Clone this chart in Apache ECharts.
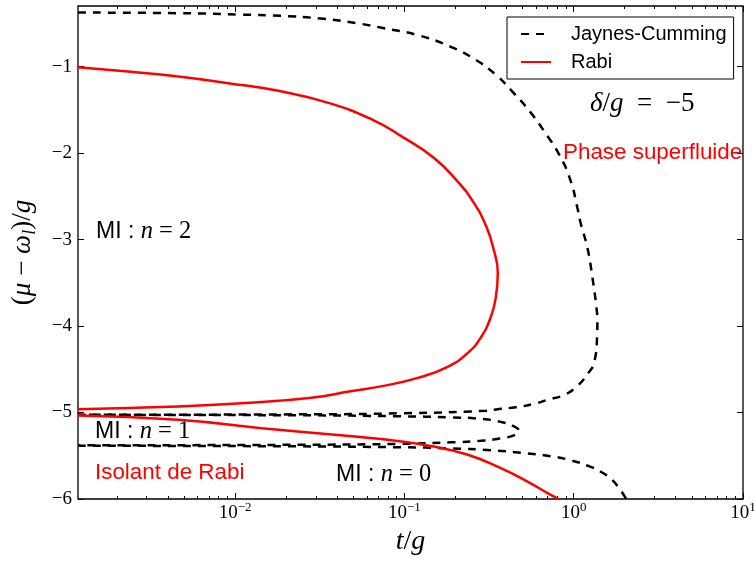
<!DOCTYPE html>
<html><head><meta charset="utf-8">
<script src="https://cdn.jsdelivr.net/npm/echarts@6/dist/echarts.min.js"></script>
<style>html,body{margin:0;padding:0;background:#fff}#c{width:754px;height:561px}</style>
</head><body><div id="c"></div>
<script>
// ---- data (t/g values on a log scale, (mu - omega_l)/g values) ----
const jcUpperT = [0.00118,0.00474,0.0107,0.0185,0.0319,0.0551,0.0723,0.121,0.188,0.264,0.347,0.425,0.553,0.679,0.822,0.955,1.052,1.094,1.205,1.288,1.361,1.380,1.375,1.324,1.222,1.052,0.883,0.700,0.586,0.455,0.371,0.303,0.0951,0.0243,0.00118];
const jcUpperY = [-0.376,-0.383,-0.399,-0.414,-0.445,-0.506,-0.549,-0.639,-0.772,-0.923,-1.096,-1.269,-1.524,-1.767,-2.021,-2.310,-2.634,-2.795,-3.096,-3.431,-3.778,-3.95,-4.102,-4.414,-4.542,-4.692,-4.795,-4.853,-4.899,-4.940,-4.957,-4.980,-5.009,-5.021,-5.027];

const jcMidT = [0.00118,0.0243,0.0951,0.187,0.282,0.371,0.437,0.474,0.443,0.371,0.282,0.187,0.0951,0.0243,0.00118];
const jcMidY = [-5.027,-5.032,-5.044,-5.056,-5.073,-5.108,-5.155,-5.212,-5.264,-5.298,-5.327,-5.345,-5.362,-5.373,-5.379];

const jcLowT = [0.00118,0.0243,0.0951,0.187,0.324,0.488,0.733,0.964,1.213,1.449,1.660,1.849,2.009,2.05];
const jcLowY = [-5.385,-5.391,-5.402,-5.414,-5.437,-5.466,-5.506,-5.553,-5.616,-5.686,-5.767,-5.871,-5.975,-6.0];

const rabiLobeT = [0.00118,0.00233,0.00461,0.00912,0.0180,0.0356,0.0649,0.0951,0.149,0.207,0.257,0.305,0.337,0.356,0.347,0.324,0.282,0.237,0.180,0.120,0.0753,0.0481,0.0282,0.0115,0.00461,0.00118];
const rabiLobeY = [-1.007,-1.058,-1.116,-1.192,-1.281,-1.420,-1.616,-1.801,-2.055,-2.333,-2.576,-2.853,-3.119,-3.385,-3.662,-3.894,-4.136,-4.310,-4.472,-4.599,-4.692,-4.755,-4.830,-4.891,-4.931,-4.961];

const rabiLowT = [0.00118,0.00461,0.0180,0.0703,0.149,0.237,0.371,0.533,0.701,0.815];
const rabiLowY = [-5.035,-5.085,-5.200,-5.304,-5.393,-5.489,-5.643,-5.798,-5.932,-6.0];

// ---- axes / ticks ----
const xMin = 0.00118, xMax = 10;
const xMajorExps = [-2, -1, 0, 1];
const xMinorMult = [2,3,4,5,6,7,8,9];
const xMinorDecades = [-3,-2,-1,0];
const yTicks = [-6,-5,-4,-3,-2,-1];
const yMin = -6, yMax = -0.3;

const xMinLog = Math.log10(xMin), xMaxLog = Math.log10(xMax);
const xMinorVals = [];
xMinorDecades.forEach(d => xMinorMult.forEach(m => xMinorVals.push(Math.log10(m) + d)));

function pts(ts, ys) { return ts.map((t, i) => [Math.log10(t), ys[i]]); }

const RED = '#ff0000';
const SERIF = 'Liberation Serif';
const SANS = 'Liberation Sans';
const dash = [8, 7];
const SMOOTH = 0.5;

function xAx(pos, vals, len, labels) {
  return {
    type: 'value', position: pos, min: xMinLog, max: xMaxLog,
    axisLine: {show: false, onZero: false}, splitLine: {show: false},
    axisTick: {show: true, inside: true, length: len, customValues: vals, lineStyle: {color: '#000', width: 1}},
    axisLabel: labels ? {
      show: true, margin: 2, customValues: xMajorExps,
      formatter: v => '{b|10}{s|' + (v < 0 ? '\u2212' : '') + Math.abs(Math.round(v)) + '}',
      rich: {
        b: {fontFamily: SERIF, fontSize: 19, color: '#000', lineHeight: 24},
        s: {fontFamily: SERIF, fontSize: 13, color: '#000', lineHeight: 12, verticalAlign: 'top'}
      }
    } : {show: false}
  };
}

const mathRich = (size) => ({
  s: {fontFamily: SANS, fontSize: size, color: '#000'},
  mi: {fontFamily: SERIF, fontStyle: 'italic', fontSize: size + 1.5, color: '#000'},
  mr: {fontFamily: SERIF, fontSize: size + 1.5, color: '#000'}
});

const chart = echarts.init(document.getElementById('c'), null, {renderer: 'canvas'});
chart.setOption({
  animation: false,
  backgroundColor: '#fff',
  grid: {left: 78, right: 11, top: 6, bottom: 62, show: true, borderColor: '#000', borderWidth: 1.3,
    backgroundColor: 'transparent', containLabel: false, outerBoundsMode: 'none'},
  xAxis: [
    Object.assign(xAx('bottom', xMajorExps, 6, true), {
      name: '{i|t}{r|/}{i|g}', nameLocation: 'middle', nameGap: 29,
      nameTextStyle: {rich: {
        i: {fontFamily: SERIF, fontStyle: 'italic', fontSize: 28, color: '#000'},
        r: {fontFamily: SERIF, fontSize: 28, color: '#000'}
      }}
    }),
    xAx('bottom', xMinorVals, 3, false),
    xAx('top', xMajorExps, 6, false),
    xAx('top', xMinorVals, 3, false)
  ],
  yAxis: [
    {
      type: 'value', position: 'left', min: yMin, max: yMax,
      axisLine: {show: false, onZero: false}, splitLine: {show: false},
      axisTick: {show: true, inside: true, length: 6, customValues: yTicks, lineStyle: {color: '#000'}},
      axisLabel: {show: true, margin: 6, customValues: yTicks, fontFamily: SERIF, fontSize: 19, color: '#000',
        formatter: v => (v < 0 ? '\u2212' : '') + Math.abs(v)},
      name: '{r|(}{i|μ}{r| \u2212 }{i|ω}{sub|l}{r|)/}{i|g}',
      nameLocation: 'middle', nameGap: 39, nameRotate: 90,
      nameTextStyle: {rich: {
        i: {fontFamily: SERIF, fontStyle: 'italic', fontSize: 27, color: '#000', lineHeight: 32},
        r: {fontFamily: SERIF, fontSize: 27, color: '#000', lineHeight: 32},
        sub: {fontFamily: SERIF, fontStyle: 'italic', fontSize: 18, color: '#000', lineHeight: 19, verticalAlign: 'bottom'}
      }}
    },
    {
      type: 'value', position: 'right', min: yMin, max: yMax,
      axisLine: {show: false, onZero: false}, splitLine: {show: false},
      axisTick: {show: true, inside: true, length: 6, customValues: yTicks, lineStyle: {color: '#000'}},
      axisLabel: {show: false}
    }
  ],
  legend: {
    orient: 'vertical', left: 507, top: 17,
    padding: [7, 7, 7, 13], itemGap: 8, itemWidth: 30, itemHeight: 14,
    borderColor: '#000', borderWidth: 1, borderRadius: 0, backgroundColor: '#fff',
    itemStyle: {opacity: 0, borderWidth: 0},
    textStyle: {fontFamily: SANS, fontSize: 20, color: '#000', padding: [0, 0, 0, 15]},
    data: ['Jaynes-Cumming', 'Rabi']
  },
  series: [
    {name: 'Jaynes-Cumming', type: 'line', data: pts(jcUpperT, jcUpperY), smooth: SMOOTH, symbol: 'none', showSymbol: false,
      lineStyle: {color: '#000', width: 2.5, type: dash}, itemStyle: {color: '#000'}},
    {name: 'Jaynes-Cumming', type: 'line', data: pts(jcMidT, jcMidY), smooth: SMOOTH, symbol: 'none', showSymbol: false,
      lineStyle: {color: '#000', width: 2.5, type: dash}, itemStyle: {color: '#000'}},
    {name: 'Jaynes-Cumming', type: 'line', data: pts(jcLowT, jcLowY), smooth: SMOOTH, symbol: 'none', showSymbol: false,
      lineStyle: {color: '#000', width: 2.5, type: dash}, itemStyle: {color: '#000'}},
    {name: 'Rabi', type: 'line', data: pts(rabiLobeT, rabiLobeY), smooth: SMOOTH, symbol: 'none', showSymbol: false,
      lineStyle: {color: RED, width: 2.5}, itemStyle: {color: RED}},
    {name: 'Rabi', type: 'line', data: pts(rabiLowT, rabiLowY), smooth: SMOOTH, symbol: 'none', showSymbol: false,
      lineStyle: {color: RED, width: 2.5}, itemStyle: {color: RED}}
  ],
  graphic: [
    {type: 'text', x: 96, y: 232, style: {text: '{s|MI : }{mi|n}{mr| = 2}', rich: mathRich(23), verticalAlign: 'middle', align: 'left'}},
    {type: 'text', x: 95, y: 432, style: {text: '{s|MI : }{mi|n}{mr| = 1}', rich: mathRich(23), verticalAlign: 'middle', align: 'left'}},
    {type: 'text', x: 336, y: 475, style: {text: '{s|MI : }{mi|n}{mr| = 0}', rich: mathRich(23), verticalAlign: 'middle', align: 'left'}},
    {type: 'text', x: 95, y: 473, style: {text: 'Isolant de Rabi', fill: RED, font: '22.4px "Liberation Sans"', verticalAlign: 'middle', align: 'left'}},
    {type: 'text', x: 563, y: 153, style: {text: 'Phase superfluide', fill: RED, font: '22.4px "Liberation Sans"', verticalAlign: 'middle', align: 'left'}},
    {type: 'text', x: 590, y: 104, style: {text: '{mi|δ}{mr|/}{mi|g}{mr|\u2002=\u2002\u22125}', verticalAlign: 'middle', align: 'left',
      rich: {mi: {fontFamily: SERIF, fontStyle: 'italic', fontSize: 27, fill: '#000'}, mr: {fontFamily: SERIF, fontSize: 27, fill: '#000'}}}}
  ]
});
</script></body></html>
